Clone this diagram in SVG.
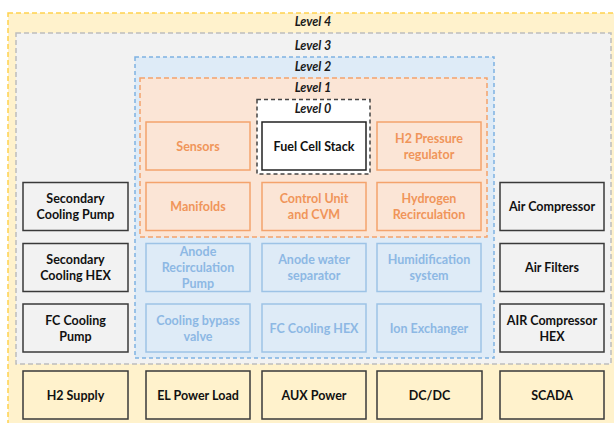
<svg xmlns="http://www.w3.org/2000/svg" width="614" height="423" viewBox="0 0 614 423">
<style>
text{font-family:Lato,"Open Sans","Liberation Sans",sans-serif;font-weight:bold;font-size:12.5px;text-anchor:middle}
.lvl{font-style:italic;fill:#1a1a1a}
.gb rect{fill:#F2F2F2;stroke:#3a3a3a;stroke-width:1.5}
.yb rect{fill:#FFF2CC;stroke:#3a3a3a;stroke-width:1.5}
.ob rect{fill:#FBE5D6;stroke:#F4A36C;stroke-width:1.5}
.bb rect{fill:#DEEBF7;stroke:#9DC3E6;stroke-width:1.5}
.gb text,.yb text{fill:#111}
.ob text{fill:#F0955A}
.bb text{fill:#8DB8E4}
.fc rect{fill:#fff;stroke:#222;stroke-width:1.5}
.fc text{fill:#111}
</style>
<g id="level4"><rect x="8" y="13" width="612" height="418" fill="#FFF2CC" stroke="#FFD24D" stroke-width="1.5" stroke-dasharray="5,3"/><text class="lvl" x="313" y="26">Level 4</text></g>
<g id="level3"><rect x="16" y="33" width="595" height="331" fill="#F2F2F2" stroke="#BDBDBD" stroke-width="1.5" stroke-dasharray="5,3"/><text class="lvl" x="313" y="50">Level 3</text></g>
<g id="level2"><rect x="135" y="57" width="359" height="301" fill="#DEEBF7" stroke="#7FB2E2" stroke-width="1.5" stroke-dasharray="4,3"/><text class="lvl" x="313" y="71">Level 2</text></g>
<g id="level1"><rect x="140" y="78" width="347" height="159" fill="#FBE5D6" stroke="#F4A36C" stroke-width="1.5" stroke-dasharray="5,3"/><text class="lvl" x="313" y="92">Level 1</text></g>
<g id="level0"><rect x="257" y="99.5" width="113" height="74.5" fill="#fff" stroke="#444" stroke-width="1.5" stroke-dasharray="4,3"/><text class="lvl" x="313" y="113">Level 0</text></g>

<g id="fuel-cell-stack" class="fc"><rect x="262" y="122" width="104" height="48"/><text x="314" y="150.5">Fuel Cell Stack</text></g>

<g id="sensors" class="ob"><rect x="146" y="122" width="104" height="48"/><text x="198" y="150.5">Sensors</text></g>
<g id="h2-pressure-regulator" class="ob"><rect x="377" y="122" width="104" height="48"/><text x="429" y="142.5">H2 Pressure</text><text x="429" y="158.5">regulator</text></g>
<g id="manifolds" class="ob"><rect x="146" y="182.5" width="104" height="48"/><text x="198" y="211">Manifolds</text></g>
<g id="control-unit" class="ob"><rect x="262" y="182.5" width="104" height="48"/><text x="314" y="203">Control Unit</text><text x="314" y="219">and CVM</text></g>
<g id="hydrogen-recirculation" class="ob"><rect x="377" y="182.5" width="104" height="48"/><text x="429" y="203">Hydrogen</text><text x="429" y="219">Recirculation</text></g>

<g id="anode-recirculation-pump" class="bb"><rect x="146" y="243.5" width="104" height="48"/><text x="198" y="256">Anode</text><text x="198" y="272">Recirculation</text><text x="198" y="288">Pump</text></g>
<g id="anode-water-separator" class="bb"><rect x="262" y="243.5" width="104" height="48"/><text x="314" y="264">Anode water</text><text x="314" y="280">separator</text></g>
<g id="humidification-system" class="bb"><rect x="377" y="243.5" width="104" height="48"/><text x="429" y="264">Humidification</text><text x="429" y="280">system</text></g>
<g id="cooling-bypass-valve" class="bb"><rect x="146" y="304" width="104" height="48"/><text x="198" y="324.5">Cooling bypass</text><text x="198" y="340.5">valve</text></g>
<g id="fc-cooling-hex" class="bb"><rect x="262" y="304" width="104" height="48"/><text x="314" y="332.5">FC Cooling HEX</text></g>
<g id="ion-exchanger" class="bb"><rect x="377" y="304" width="104" height="48"/><text x="429" y="332.5">Ion Exchanger</text></g>

<g id="secondary-cooling-pump" class="gb"><rect x="23" y="182.5" width="105" height="48"/><text x="75.5" y="203">Secondary</text><text x="75.5" y="219">Cooling Pump</text></g>
<g id="secondary-cooling-hex" class="gb"><rect x="23" y="243.5" width="105" height="48"/><text x="75.5" y="264">Secondary</text><text x="75.5" y="280">Cooling HEX</text></g>
<g id="fc-cooling-pump" class="gb"><rect x="23" y="304" width="105" height="48"/><text x="75.5" y="324.5">FC Cooling</text><text x="75.5" y="340.5">Pump</text></g>
<g id="air-compressor" class="gb"><rect x="500" y="182.5" width="104" height="48"/><text x="552" y="211">Air Compressor</text></g>
<g id="air-filters" class="gb"><rect x="500" y="243.5" width="104" height="48"/><text x="552" y="272">Air Filters</text></g>
<g id="air-compressor-hex" class="gb"><rect x="500" y="304" width="104" height="48"/><text x="552" y="324.5">AIR Compressor</text><text x="552" y="340.5">HEX</text></g>

<g id="h2-supply" class="yb"><rect x="23" y="371" width="105" height="48"/><text x="75.5" y="399.5">H2 Supply</text></g>
<g id="el-power-load" class="yb"><rect x="146" y="371" width="104" height="48"/><text x="198" y="399.5">EL Power Load</text></g>
<g id="aux-power" class="yb"><rect x="262" y="371" width="104" height="48"/><text x="314" y="399.5">AUX Power</text></g>
<g id="dc-dc" class="yb"><rect x="377" y="371" width="105" height="48"/><text x="429.5" y="399.5">DC/DC</text></g>
<g id="scada" class="yb"><rect x="500" y="371" width="104" height="48"/><text x="552" y="399.5">SCADA</text></g>

<g id="connectors"></g>
</svg>
